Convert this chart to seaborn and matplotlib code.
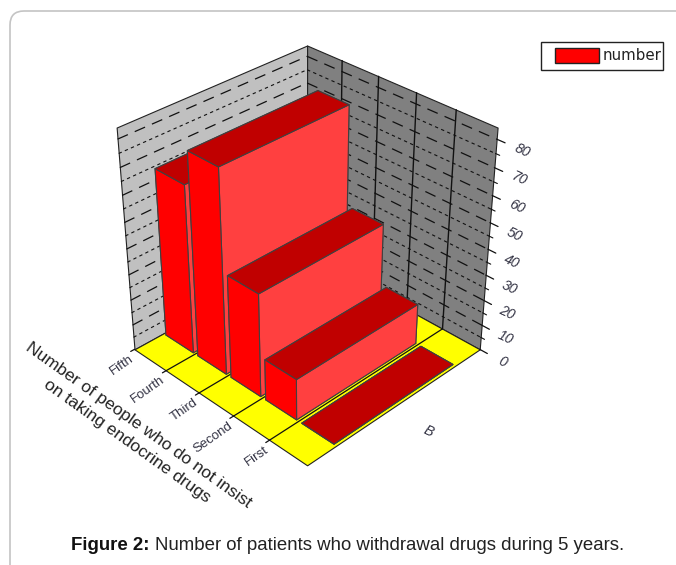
import numpy as np
import matplotlib
matplotlib.use("Agg")
import matplotlib.pyplot as plt
import seaborn as sns
from matplotlib.patches import FancyBboxPatch, Rectangle
from mpl_toolkits.mplot3d import proj3d
from mpl_toolkits.mplot3d.art3d import Poly3DCollection

periods = ["First", "Second", "Third", "Fourth", "Fifth"]
patients = [0, 16, 40, 78, 65]
z_ticks = [0, 10, 20, 30, 40, 50, 60, 70, 80]
z_minor = [5, 15, 25, 35, 45, 55, 65, 75]
z_top = 84

sns.set_theme(style="white")
plt.rcParams["font.family"] = ["Liberation Sans", "DejaVu Sans"]

fig = plt.figure(figsize=(6.76, 5.65), dpi=100)

# page furniture, in pixel coordinates
bg = fig.add_axes([0, 0, 1, 1])
bg.set_xlim(0, 676)
bg.set_ylim(565, 0)
bg.axis("off")
bg.add_patch(FancyBboxPatch((10, 11), 720, 600, boxstyle="round,pad=0,rounding_size=14",
                            fc="white", ec="#c4c4c4", lw=1.2))
bg.text(71, 545, "Figure 2:", fontsize=13.4, fontweight="bold", color="#111111", va="center")
bg.text(155, 545, "Number of patients who withdrawal drugs during 5 years.",
        fontsize=13.4, color="#222222", va="center")
# legend box
bg.add_patch(Rectangle((540.5, 41.5), 122, 28, fc="white", ec="#222222", lw=1))
bg.add_patch(Rectangle((555, 48), 44, 15, fc="#ff0000", ec="#222222", lw=1))
bg.text(603, 55, "number", fontsize=10.8, family="DejaVu Sans", color="#222222", va="center")

ax = fig.add_axes([-1 / 676, 13 / 565, 600 / 676, 600 / 565], projection="3d")
ax.set_axis_off()
ax.patch.set_alpha(0)
ax.computed_zorder = False
ax.set_proj_type("persp", focal_length=0.45)
ax.view_init(elev=33, azim=-135)
ax.set_box_aspect((1, 1, 1.03), zoom=0.725)
n = len(periods)
ax.set_xlim(0, 1)
ax.set_ylim(0, n)
ax.set_zlim(0, z_top)


def quad(pts, fc, z):
    ax.add_collection3d(Poly3DCollection([pts], facecolors=fc, edgecolors="#222222", linewidths=0.8, zorder=z))


def label3d(x, y, z, s, **kw):
    # place a flat text at a projected data position so rotation stays as given
    px, py, _ = proj3d.proj_transform(x, y, z, ax.get_proj())
    ax.text2D(px, py, s, transform=ax.transData, color="#333344", **kw)


# walls and floor
quad([(0, n, 0), (1, n, 0), (1, n, z_top), (0, n, z_top)], "#c0c0c0", 1)
quad([(1, 0, 0), (1, n, 0), (1, n, z_top), (1, 0, z_top)], "#808080", 1)
quad([(0, 0, 0), (1, 0, 0), (1, n, 0), (0, n, 0)], "#ffff00", 1)

# grid on the walls
for v in z_ticks[1:]:
    ax.plot([0, 1], [n, n], [v, v], color="#111111", lw=0.9, ls=(0, (9, 6)), zorder=2)
    ax.plot([1, 1], [n, 0], [v, v], color="#111111", lw=0.9, ls=(0, (9, 6)), zorder=2)
for v in z_minor:
    ax.plot([0, 1], [n, n], [v, v], color="#111111", lw=0.8, ls=(0, (3, 3)), zorder=2)
    ax.plot([1, 1], [n, 0], [v, v], color="#111111", lw=0.8, ls=(0, (3, 3)), zorder=2)
for i in range(1, n):
    ax.plot([1, 1], [i, i], [0, z_top], color="#111111", lw=1, zorder=2)
    ax.plot([0, 1], [i, i], [0, 0], color="#111111", lw=0.9, zorder=2)

# bars, back to front
for i in range(n - 1, -1, -1):
    ax.bar3d(0.155, i + 0.06, 0, 0.69, 0.86, patients[i],
             color=["#c00000", "#c00000", "#ff4040", "#ff4040", "#ff0000", "#ff0000"],
             edgecolor="#404040", linewidth=0.8, shade=False, zorder=10 + n - i)

# z axis ticks and labels, at the right corner
for v in z_ticks:
    ax.plot([1, 1], [0, -0.2], [v, v], color="#111111", lw=0.9, zorder=3)
    label3d(1.0, -0.6, v, str(v), fontsize=10, style="italic", rotation=-25, ha="center", va="center",
            rotation_mode="anchor")
for v in z_minor:
    ax.plot([1, 1], [0, -0.1], [v, v], color="#111111", lw=0.8, zorder=3)

# category labels, anchored at the cell boundary ticks
for i, name in enumerate(periods):
    ax.plot([0, -0.02], [i + 1, i + 1], [0, 0], color="#111111", lw=0.9, zorder=3)
    label3d(-0.03, i + 1, 0, name, fontsize=9.5, rotation=35, ha="right", va="top", rotation_mode="anchor")

label3d(0.464, -0.95, 0, "B", fontsize=10, style="italic", rotation=-25, ha="center", va="center",
        rotation_mode="anchor")

bg.text(133, 433, "Number of people who do not insist\non taking endocrine drugs", fontsize=12.5,
        rotation=-35.5, rotation_mode="anchor", ha="center", va="center", color="#222222", linespacing=1.35)
ax.set_zorder(1)
fig.savefig("out.png", dpi=100)
